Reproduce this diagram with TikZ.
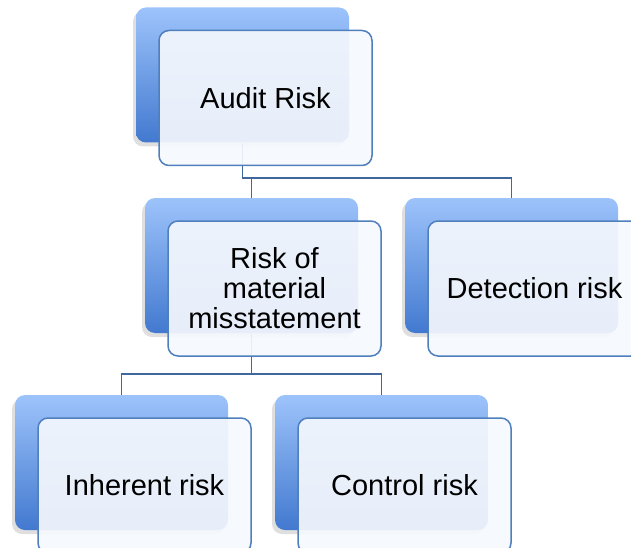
\documentclass[tikz,border=0pt]{standalone}
\usepackage{fontspec}
\setmainfont{Liberation Sans}
\usepackage{tikz}
\usepackage{xcolor}
\usetikzlibrary{positioning,shadows}
\definecolor{backtop}{HTML}{9DC3FB}
\definecolor{backbot}{HTML}{4279CF}
\definecolor{frontfill}{HTML}{F5F8FD}
\definecolor{frontline}{HTML}{4F7FBC}
\definecolor{linkblue}{HTML}{40689E}

\begin{document}
\begin{tikzpicture}[
        x=1pt, y=-1pt,
        every node/.style={font=\fontsize{29}{30}\selectfont, align=center},
        back/.style={rounded corners=10pt, top color=backtop, bottom color=backbot,
          minimum width=213pt, minimum height=135pt, inner sep=0pt,
          drop shadow={shadow xshift=-3pt, shadow yshift=-4pt, opacity=0.25}},
        front/.style={draw=frontline, line width=1.5pt, fill=frontfill, fill opacity=0.92,
          text opacity=1, rounded corners=10pt, minimum width=213pt, minimum height=135pt, inner sep=0pt},
        link/.style={draw=linkblue, line width=1.8pt}
      ]
        \path[use as bounding box] (0,0) rectangle (631,548);
        \clip (0,0) rectangle (631,548);
        % back boxes
        \node[back] (audb) at (242.5,75) {};
        \node[back] (rmmb) at (251.5,265.5) {};
        \node[back] (detb) at (511.5,265.5) {};
        \node[back] (inhb) at (121.5,462.5) {};
        \node[back] (conb) at (381.5,462.5) {};
        % connectors
        \draw[link] (audb.south) -- ++(0,35) -| (rmmb.north);
        \draw[link] (audb.south) -- ++(0,35) -| (detb.north);
        \draw[link] (rmmb.south) -- ++(0,41) -| (inhb.north);
        \draw[link] (rmmb.south) -- ++(0,41) -| (conb.north);
        % front boxes
        \node[front] (aud) at ([shift={(23,23)}]audb.center) {Audit Risk};
        \node[front] (rmm) at ([shift={(23,23)}]rmmb.center) {Risk of\\material\\misstatement};
        \node[front] (det) at ([shift={(23,23)}]detb.center) {Detection risk};
        \node[front] (inh) at ([shift={(23,23)}]inhb.center) {Inherent risk};
        \node[front] (con) at ([shift={(23,23)}]conb.center) {Control risk};
      \end{tikzpicture}
\end{document}
